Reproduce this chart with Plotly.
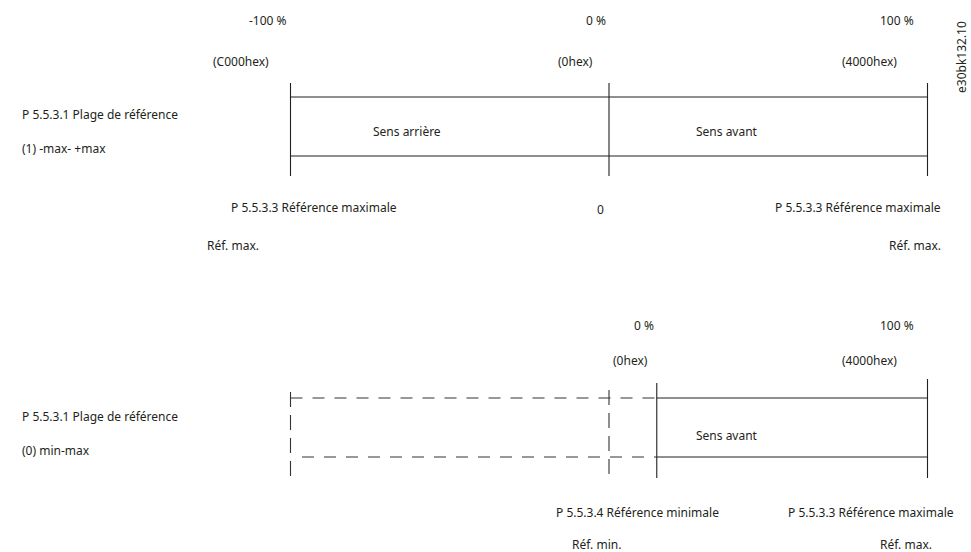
import plotly.graph_objects as go

# valeurs du schema (en % de la reference)
ref_haut = [-100, 0, 100]
pct_haut = ["-100 %", "0 %", "100 %"]
hex_haut = ["(C000hex)", "(0hex)", "(4000hex)"]
sens_haut = ["Sens arrière", "Sens avant"]

ref_bas = [15, 100]          # ref. min. decalee, ref. max.
pct_bas = ["0 %", "100 %"]
hex_bas = ["(0hex)", "(4000hex)"]
zone_morte = [-100, 0]       # ancienne plage (pointilles)

# position px -> % : x_px = X0 + K * pct
X0, K = 609, 3.185
W, H = 971, 552
NOIR = "#231f20"
FONT = "Noto Sans"
FS = 12

fig = go.Figure()


def ligne(x0, x1, y0, y1, dash=None, color=NOIR):
    fig.add_shape(type="line", x0=x0, x1=x1, y0=y0, y1=y1, xref="x", yref="y",
                  line=dict(color=color, width=1.1, dash=dash))


def texte(x, y, t, anchor="center", xshift=0, size=FS, **kw):
    fig.add_annotation(x=x, y=y, text=t, showarrow=False, xref="x", yref="y",
                       xanchor=anchor, yanchor="middle", xshift=xshift,
                       font=dict(family=FONT, size=size, color=NOIR), **kw)


# --- schema du haut : -max .. +max
for r in ref_haut:
    ligne(r, r, 83, 176)
ligne(ref_haut[0], ref_haut[-1], 97, 97)
ligne(ref_haut[0], ref_haut[-1], 156, 156)

for r, t, s in zip(ref_haut, pct_haut, [-2, -1, -12]):
    texte(r, 20, t, "right", s)
for r, t, s in zip(ref_haut, hex_haut, [-20, -14, -29]):
    texte(r, 61, t, "right", s)

texte((ref_haut[0] + ref_haut[1]) / 2, 131, sens_haut[0], xshift=-43)
texte((ref_haut[1] + ref_haut[2]) / 2, 131, sens_haut[1], xshift=-41)

texte(-191.2, 114, "P 5.5.3.1 Plage de référence", "left", 20)
texte(-191.2, 148, "(1) -max- +max", "left", 20)

texte(ref_haut[0], 207, "P 5.5.3.3 Référence maximale", "left", -62)
texte(ref_haut[0], 245, "Réf. max.", "left", -86)
texte(ref_haut[1], 209, "0", "center", -9)
texte(ref_haut[2], 207, "P 5.5.3.3 Référence maximale", "right", 15)
texte(ref_haut[2], 245, "Réf. max.", "right", 15)

# --- schema du bas : min .. max
# plage non utilisee en pointilles
ligne(zone_morte[0], zone_morte[0], 392, 478, dash="15px,8px", color="#333")
ligne(zone_morte[1], zone_morte[1], 390, 478, dash="15px,8px", color="#333")
ligne(zone_morte[0], ref_bas[0], 398, 398, dash="12px,10px", color="#333")
ligne(zone_morte[0] + 3.6, ref_bas[0], 457, 457, dash="12px,10px", color="#333")

ligne(ref_bas[0], ref_bas[0], 383, 478)
ligne(ref_bas[1], ref_bas[1], 379, 478)
ligne(ref_bas[0], ref_bas[1], 398, 398)
ligne(ref_bas[0], ref_bas[1], 457, 457)

for r, t, s in zip(ref_bas, pct_bas, [-1, -12]):
    texte(r, 325, t, "right", s)
for r, t, s in zip(ref_bas, hex_bas, [-7, -29]):
    texte(r, 360, t, "right", s)

texte((ref_bas[0] + ref_bas[1]) / 2, 435, "Sens avant", xshift=-65)

texte(-191.2, 416, "P 5.5.3.1 Plage de référence", "left", 20)
texte(-191.2, 450, "(0) min-max", "left", 20)

texte(ref_bas[0], 512, "P 5.5.3.4 Référence minimale", "center", -19)
texte(ref_bas[0], 544, "Réf. min.", "center", -60)
texte(ref_bas[1], 512, "P 5.5.3.3 Référence maximale", "right", 28)
texte(ref_bas[1], 544, "Réf. max.", "right", 6)

# identifiant de la figure
texte((961 - X0) / K, 57, "e30bk132.10", "center", 0, size=12, textangle=-90)

fig.update_layout(
    width=W, height=H,
    margin=dict(l=0, r=0, t=0, b=0),
    paper_bgcolor="white", plot_bgcolor="white",
    showlegend=False,
    xaxis=dict(range=[(0 - X0) / K, (W - X0) / K], visible=False, fixedrange=True),
    yaxis=dict(range=[H, 0], visible=False, fixedrange=True),
)

fig.write_html("out.html", config={"displayModeBar": False},
               post_script="document.body.style.margin='0px';")
